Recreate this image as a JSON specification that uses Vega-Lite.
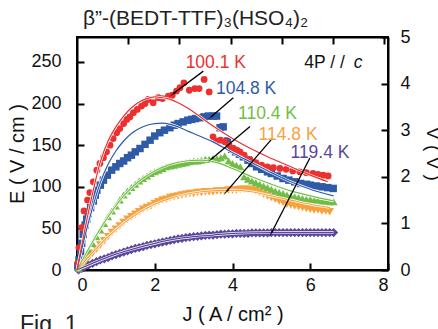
{
  "$schema": "https://vega.github.io/schema/vega-lite/v6.json",
  "width": 311,
  "height": 233,
  "autosize": {"type": "none"},
  "padding": {"left": 77, "top": 37, "right": 50, "bottom": 59},
  "background": "white",
  "title": {"text": "β”-(BEDT-TTF)₃(HSO₄)₂", "anchor": "start", "frame": "group", "dx": 6, "offset": -18, "baseline": "alphabetic", "fontSize": 21, "font": "Liberation Sans", "fontWeight": "normal", "color": "#222"},
  "datasets": {
    "pts": [
      {"s":"e","J":0.04,"E":0},{"s":"e","J":0.12,"E":2},{"s":"e","J":0.2,"E":4},{"s":"e","J":0.3,"E":6},{"s":"e","J":0.4,"E":8},{"s":"e","J":0.5,"E":10},{"s":"e","J":0.6,"E":12},{"s":"e","J":0.7,"E":13.5},{"s":"e","J":0.8,"E":15},{"s":"e","J":0.9,"E":17},{"s":"e","J":1.0,"E":18.5},{"s":"e","J":1.1,"E":20},{"s":"e","J":1.2,"E":21.5},{"s":"e","J":1.3,"E":23},{"s":"e","J":1.4,"E":24.5},{"s":"e","J":1.5,"E":26},{"s":"e","J":1.6,"E":27},{"s":"e","J":1.7,"E":28},{"s":"e","J":1.8,"E":29.5},{"s":"e","J":1.9,"E":30.5},{"s":"e","J":2.0,"E":31.5},{"s":"e","J":2.1,"E":32.5},{"s":"e","J":2.2,"E":33.5},{"s":"e","J":2.3,"E":34.5},{"s":"e","J":2.4,"E":35.5},{"s":"e","J":2.5,"E":36.5},{"s":"e","J":2.6,"E":37.5},{"s":"e","J":2.7,"E":38},{"s":"e","J":2.8,"E":39},{"s":"e","J":2.9,"E":39.5},{"s":"e","J":3.0,"E":40},{"s":"e","J":3.1,"E":40.5},{"s":"e","J":3.2,"E":41},{"s":"e","J":3.3,"E":41.5},{"s":"e","J":3.4,"E":42},{"s":"e","J":3.5,"E":42},{"s":"e","J":3.6,"E":42.5},{"s":"e","J":3.7,"E":43},{"s":"e","J":3.8,"E":43},{"s":"e","J":3.9,"E":43.5},{"s":"e","J":4.0,"E":43.5},{"s":"e","J":4.1,"E":44},{"s":"e","J":4.2,"E":44},{"s":"e","J":4.3,"E":44},{"s":"e","J":4.4,"E":44},{"s":"e","J":4.5,"E":44.5},{"s":"e","J":4.6,"E":44.5},{"s":"e","J":4.7,"E":44.5},{"s":"e","J":4.8,"E":44.5},{"s":"e","J":4.9,"E":44.5},{"s":"e","J":5.0,"E":45},{"s":"e","J":5.1,"E":45},{"s":"e","J":5.2,"E":45},{"s":"e","J":5.3,"E":45},{"s":"e","J":5.4,"E":45},{"s":"e","J":5.5,"E":45},{"s":"e","J":5.6,"E":45},{"s":"e","J":5.7,"E":45},{"s":"e","J":5.8,"E":45},{"s":"e","J":5.9,"E":45},{"s":"e","J":6.0,"E":45},{"s":"e","J":6.1,"E":45},{"s":"e","J":6.2,"E":45},{"s":"e","J":6.3,"E":45},{"s":"e","J":6.4,"E":45},{"s":"e","J":6.5,"E":45},{"s":"e","J":6.6,"E":45},
      {"s":"d","J":0.04,"E":1},{"s":"d","J":0.12,"E":5},{"s":"d","J":0.2,"E":9},{"s":"d","J":0.3,"E":15},{"s":"d","J":0.4,"E":20},{"s":"d","J":0.5,"E":25},{"s":"d","J":0.6,"E":30},{"s":"d","J":0.7,"E":35},{"s":"d","J":0.8,"E":40},{"s":"d","J":0.9,"E":45},{"s":"d","J":1.0,"E":49},{"s":"d","J":1.1,"E":53},{"s":"d","J":1.2,"E":57},{"s":"d","J":1.3,"E":61},{"s":"d","J":1.4,"E":64},{"s":"d","J":1.5,"E":67},{"s":"d","J":1.6,"E":70},{"s":"d","J":1.7,"E":73},{"s":"d","J":1.8,"E":75},{"s":"d","J":1.9,"E":77},{"s":"d","J":2.0,"E":80},{"s":"d","J":2.1,"E":82},{"s":"d","J":2.2,"E":84},{"s":"d","J":2.3,"E":85},{"s":"d","J":2.4,"E":87},{"s":"d","J":2.5,"E":88},{"s":"d","J":2.6,"E":89},{"s":"d","J":2.7,"E":90},{"s":"d","J":2.8,"E":91},{"s":"d","J":2.9,"E":92},{"s":"d","J":3.0,"E":92},{"s":"d","J":3.1,"E":93},{"s":"d","J":3.2,"E":93},{"s":"d","J":3.3,"E":94},{"s":"d","J":3.4,"E":94},{"s":"d","J":3.5,"E":94},{"s":"d","J":3.6,"E":95},{"s":"d","J":3.7,"E":95},{"s":"d","J":3.8,"E":95},{"s":"d","J":3.9,"E":96},{"s":"d","J":4.0,"E":96},{"s":"d","J":4.1,"E":96},{"s":"d","J":4.2,"E":97},{"s":"d","J":4.3,"E":97},{"s":"d","J":4.4,"E":97},{"s":"d","J":4.5,"E":96},{"s":"d","J":4.6,"E":95},{"s":"d","J":4.7,"E":93},{"s":"d","J":4.8,"E":91},{"s":"d","J":4.9,"E":89},{"s":"d","J":5.0,"E":87},{"s":"d","J":5.1,"E":85},{"s":"d","J":5.2,"E":83},{"s":"d","J":5.3,"E":81},{"s":"d","J":5.4,"E":79},{"s":"d","J":5.5,"E":78},{"s":"d","J":5.6,"E":77},{"s":"d","J":5.7,"E":76},{"s":"d","J":5.8,"E":75},{"s":"d","J":5.9,"E":74},{"s":"d","J":6.0,"E":73},{"s":"d","J":6.1,"E":72},{"s":"d","J":6.2,"E":72},{"s":"d","J":6.3,"E":71},{"s":"d","J":6.4,"E":71},{"s":"d","J":6.5,"E":70},
      {"s":"c","J":0.04,"E":2},{"s":"c","J":0.12,"E":6},{"s":"c","J":0.2,"E":14},{"s":"c","J":0.3,"E":23},{"s":"c","J":0.4,"E":32},{"s":"c","J":0.5,"E":40},{"s":"c","J":0.6,"E":48},{"s":"c","J":0.7,"E":56},{"s":"c","J":0.8,"E":64},{"s":"c","J":0.9,"E":71},{"s":"c","J":1.0,"E":77},{"s":"c","J":1.1,"E":84},{"s":"c","J":1.2,"E":90},{"s":"c","J":1.3,"E":95},{"s":"c","J":1.4,"E":99},{"s":"c","J":1.5,"E":103},{"s":"c","J":1.6,"E":107},{"s":"c","J":1.7,"E":110},{"s":"c","J":1.8,"E":113},{"s":"c","J":1.9,"E":116},{"s":"c","J":2.0,"E":118},{"s":"c","J":2.1,"E":120},{"s":"c","J":2.2,"E":122},{"s":"c","J":2.3,"E":124},{"s":"c","J":2.4,"E":125},{"s":"c","J":2.5,"E":126},{"s":"c","J":2.6,"E":127},{"s":"c","J":2.7,"E":128},{"s":"c","J":2.8,"E":129},{"s":"c","J":2.9,"E":130},{"s":"c","J":3.0,"E":131},{"s":"c","J":3.1,"E":131},{"s":"c","J":3.2,"E":132},{"s":"c","J":3.3,"E":133},{"s":"c","J":3.4,"E":133},{"s":"c","J":3.5,"E":134},{"s":"c","J":3.6,"E":134},{"s":"c","J":3.7,"E":135},{"s":"c","J":3.8,"E":137},{"s":"c","J":3.9,"E":131},{"s":"c","J":4.0,"E":128},{"s":"c","J":4.1,"E":126},{"s":"c","J":4.2,"E":124},{"s":"c","J":4.3,"E":112},{"s":"c","J":4.4,"E":109},{"s":"c","J":4.5,"E":107},{"s":"c","J":4.6,"E":105},{"s":"c","J":4.7,"E":103},{"s":"c","J":4.8,"E":101},{"s":"c","J":4.9,"E":99},{"s":"c","J":5.0,"E":97},{"s":"c","J":5.1,"E":95},{"s":"c","J":5.2,"E":93},{"s":"c","J":5.3,"E":92},{"s":"c","J":5.4,"E":90},{"s":"c","J":5.5,"E":89},{"s":"c","J":5.6,"E":88},{"s":"c","J":5.7,"E":87},{"s":"c","J":5.8,"E":86},{"s":"c","J":5.9,"E":85},{"s":"c","J":6.0,"E":85},{"s":"c","J":6.1,"E":84},{"s":"c","J":6.2,"E":84},{"s":"c","J":6.3,"E":83},{"s":"c","J":6.4,"E":83},{"s":"c","J":6.5,"E":82},{"s":"c","J":6.6,"E":82},
      {"s":"b","J":0.02,"E":5},{"s":"b","J":0.05,"E":12},{"s":"b","J":0.09,"E":22},{"s":"b","J":0.12,"E":32},{"s":"b","J":0.16,"E":43},{"s":"b","J":0.21,"E":54},{"s":"b","J":0.25,"E":61},{"s":"b","J":0.29,"E":68},{"s":"b","J":0.35,"E":75},{"s":"b","J":0.42,"E":83},{"s":"b","J":0.47,"E":90},{"s":"b","J":0.51,"E":96},{"s":"b","J":0.6,"E":102},{"s":"b","J":0.68,"E":108},{"s":"b","J":0.78,"E":114},{"s":"b","J":0.89,"E":120},{"s":"b","J":1.0,"E":124},{"s":"b","J":1.1,"E":128},{"s":"b","J":1.2,"E":131},{"s":"b","J":1.3,"E":135},{"s":"b","J":1.4,"E":138},{"s":"b","J":1.5,"E":142},{"s":"b","J":1.62,"E":146},{"s":"b","J":1.75,"E":151},{"s":"b","J":1.88,"E":156},{"s":"b","J":2.0,"E":161},{"s":"b","J":2.13,"E":165},{"s":"b","J":2.25,"E":168},{"s":"b","J":2.39,"E":171},{"s":"b","J":2.5,"E":174},{"s":"b","J":2.6,"E":176},{"s":"b","J":2.73,"E":178},{"s":"b","J":2.85,"E":180},{"s":"b","J":2.95,"E":181},{"s":"b","J":3.05,"E":182},{"s":"b","J":3.16,"E":183},{"s":"b","J":3.27,"E":184},{"s":"b","J":3.38,"E":185},{"s":"b","J":3.5,"E":185},{"s":"b","J":3.59,"E":185},{"s":"b","J":3.68,"E":171},{"s":"b","J":3.76,"E":172},{"s":"b","J":3.87,"E":155},{"s":"b","J":3.98,"E":145},{"s":"b","J":4.08,"E":142},{"s":"b","J":4.18,"E":139},{"s":"b","J":4.28,"E":136},{"s":"b","J":4.4,"E":132},{"s":"b","J":4.5,"E":128},{"s":"b","J":4.62,"E":124},{"s":"b","J":4.75,"E":121},{"s":"b","J":4.9,"E":118},{"s":"b","J":5.0,"E":116},{"s":"b","J":5.15,"E":113},{"s":"b","J":5.3,"E":110},{"s":"b","J":5.45,"E":108},{"s":"b","J":5.6,"E":106},{"s":"b","J":5.75,"E":104},{"s":"b","J":5.9,"E":103},{"s":"b","J":6.0,"E":102},{"s":"b","J":6.15,"E":101},{"s":"b","J":6.3,"E":100},{"s":"b","J":6.45,"E":99},{"s":"b","J":6.59,"E":98},
      {"s":"a","J":0.02,"E":8},{"s":"a","J":0.05,"E":27},{"s":"a","J":0.12,"E":51},{"s":"a","J":0.18,"E":71},{"s":"a","J":0.27,"E":84},{"s":"a","J":0.33,"E":93},{"s":"a","J":0.42,"E":106},{"s":"a","J":0.51,"E":120},{"s":"a","J":0.59,"E":128},{"s":"a","J":0.68,"E":135},{"s":"a","J":0.76,"E":142},{"s":"a","J":0.85,"E":150},{"s":"a","J":0.93,"E":158},{"s":"a","J":1.02,"E":165},{"s":"a","J":1.1,"E":170},{"s":"a","J":1.2,"E":176},{"s":"a","J":1.28,"E":181},{"s":"a","J":1.36,"E":184},{"s":"a","J":1.45,"E":189},{"s":"a","J":1.55,"E":193},{"s":"a","J":1.66,"E":197},{"s":"a","J":1.75,"E":200},{"s":"a","J":1.83,"E":205},{"s":"a","J":1.96,"E":201},{"s":"a","J":2.09,"E":207},{"s":"a","J":2.2,"E":206},{"s":"a","J":2.35,"E":209},{"s":"a","J":2.45,"E":210},{"s":"a","J":2.56,"E":215},{"s":"a","J":2.65,"E":219},{"s":"a","J":2.75,"E":225},{"s":"a","J":2.89,"E":216},{"s":"a","J":3.03,"E":218},{"s":"a","J":3.14,"E":218},{"s":"a","J":3.27,"E":229},{"s":"a","J":3.4,"E":214},{"s":"a","J":3.5,"E":160},{"s":"a","J":3.59,"E":155},{"s":"a","J":3.69,"E":156},{"s":"a","J":3.8,"E":154},{"s":"a","J":3.91,"E":150},{"s":"a","J":4.02,"E":146},{"s":"a","J":4.11,"E":144},{"s":"a","J":4.19,"E":142},{"s":"a","J":4.3,"E":138},{"s":"a","J":4.45,"E":133},{"s":"a","J":4.6,"E":129},{"s":"a","J":4.75,"E":126},{"s":"a","J":4.9,"E":124},{"s":"a","J":5.05,"E":123},{"s":"a","J":5.22,"E":122},{"s":"a","J":5.38,"E":121},{"s":"a","J":5.55,"E":119},{"s":"a","J":5.73,"E":118},{"s":"a","J":5.9,"E":117},{"s":"a","J":6.07,"E":116},{"s":"a","J":6.2,"E":115},{"s":"a","J":6.33,"E":114},{"s":"a","J":6.46,"E":113}
    ],
    "fits": [
      {"s":"e","J":0,"E":0},{"s":"e","J":0.5,"E":10},{"s":"e","J":1.0,"E":19},{"s":"e","J":1.5,"E":26},{"s":"e","J":2.0,"E":32},{"s":"e","J":2.5,"E":37},{"s":"e","J":3.0,"E":40},{"s":"e","J":3.5,"E":42},{"s":"e","J":4.0,"E":44},{"s":"e","J":5.0,"E":45},{"s":"e","J":6.6,"E":45},
      {"s":"d","J":0,"E":0},{"s":"d","J":0.4,"E":21},{"s":"d","J":0.8,"E":40},{"s":"d","J":1.2,"E":56},{"s":"d","J":1.6,"E":69},{"s":"d","J":2.0,"E":79},{"s":"d","J":2.4,"E":86},{"s":"d","J":2.8,"E":91},{"s":"d","J":3.2,"E":94},{"s":"d","J":3.6,"E":95.5},{"s":"d","J":4.0,"E":96},{"s":"d","J":4.5,"E":94},{"s":"d","J":5.0,"E":89},{"s":"d","J":5.5,"E":84},{"s":"d","J":6.0,"E":79},{"s":"d","J":6.5,"E":75},
      {"s":"c","J":0,"E":0},{"s":"c","J":0.4,"E":34},{"s":"c","J":0.8,"E":64},{"s":"c","J":1.2,"E":89},{"s":"c","J":1.6,"E":107},{"s":"c","J":2.0,"E":119},{"s":"c","J":2.4,"E":127},{"s":"c","J":2.8,"E":131},{"s":"c","J":3.2,"E":132},{"s":"c","J":3.6,"E":129},{"s":"c","J":4.0,"E":122},{"s":"c","J":4.5,"E":112},{"s":"c","J":5.0,"E":103},{"s":"c","J":5.5,"E":95},{"s":"c","J":6.0,"E":89},{"s":"c","J":6.6,"E":83},
      {"s":"b","J":0,"E":0},{"s":"b","J":0.2,"E":40},{"s":"b","J":0.4,"E":75},{"s":"b","J":0.6,"E":105},{"s":"b","J":0.8,"E":127},{"s":"b","J":1.0,"E":143},{"s":"b","J":1.2,"E":155},{"s":"b","J":1.4,"E":164},{"s":"b","J":1.6,"E":170},{"s":"b","J":1.8,"E":174},{"s":"b","J":2.0,"E":176},{"s":"b","J":2.2,"E":176.5},{"s":"b","J":2.4,"E":175},{"s":"b","J":2.6,"E":172},{"s":"b","J":2.8,"E":168},{"s":"b","J":3.0,"E":164},{"s":"b","J":3.5,"E":154},{"s":"b","J":4.0,"E":141},{"s":"b","J":4.5,"E":129},{"s":"b","J":5.0,"E":117},{"s":"b","J":5.5,"E":106},{"s":"b","J":6.0,"E":97},{"s":"b","J":6.6,"E":89},
      {"s":"a","J":0,"E":0},{"s":"a","J":0.2,"E":48},{"s":"a","J":0.4,"E":92},{"s":"a","J":0.6,"E":130},{"s":"a","J":0.8,"E":155},{"s":"a","J":1.0,"E":172},{"s":"a","J":1.2,"E":185},{"s":"a","J":1.4,"E":195},{"s":"a","J":1.6,"E":202},{"s":"a","J":1.8,"E":206},{"s":"a","J":2.0,"E":208},{"s":"a","J":2.2,"E":207},{"s":"a","J":2.4,"E":205},{"s":"a","J":2.6,"E":201},{"s":"a","J":2.8,"E":196},{"s":"a","J":3.0,"E":190},{"s":"a","J":3.2,"E":183},{"s":"a","J":3.5,"E":173},{"s":"a","J":4.0,"E":158},{"s":"a","J":4.5,"E":145},{"s":"a","J":5.0,"E":134},{"s":"a","J":5.5,"E":124},{"s":"a","J":6.0,"E":114},{"s":"a","J":6.45,"E":106}
    ],
    "labels": [
      {"s":"a","t":"100.1 K","J":3.57,"E":249},
      {"s":"b","t":"104.8 K","J":4.35,"E":217.5},
      {"s":"c","t":"110.4 K","J":4.9,"E":188},
      {"s":"d","t":"114.8 K","J":5.43,"E":162.5},
      {"s":"e","t":"119.4 K","J":6.25,"E":140.5}
    ],
    "arrows": [
      {"J":3.25,"E":239,"J2":2.48,"E2":212},
      {"J":4.02,"E":207,"J2":3.46,"E2":184.5},
      {"J":4.45,"E":172.5,"J2":3.46,"E2":133.5},
      {"J":5.03,"E":158.5,"J2":3.85,"E2":94.5},
      {"J":5.99,"E":134.5,"J2":5.0,"E2":44.5}
    ]
  },
  "layer": [
    {
      "layer": [
        {
          "data": {"name": "pts"},
          "mark": {"type": "point", "filled": true, "opacity": 1, "strokeWidth": 0},
          "encoding": {
            "x": {"field": "J", "type": "quantitative", "scale": {"domain": [0, 8], "nice": false, "zero": false}, "axis": {"orient": "bottom", "values": [0, 2, 4, 6, 8], "title": "J ( A / cm² )", "labelPadding": 13, "titlePadding": 10, "titleFontSize": 20}},
            "y": {"field": "E", "type": "quantitative", "scale": {"domain": [0, 280], "nice": false, "zero": false}, "axis": {"orient": "left", "values": [0, 50, 100, 150, 200, 250], "title": "E ( V / cm )", "labelPadding": 23, "titlePadding": 3, "titleFontSize": 20}},
            "color": {"field": "s", "type": "nominal", "scale": {"domain": ["a", "b", "c", "d", "e"], "range": ["#ee2f2f", "#2f5aa8", "#72bd45", "#f8a23f", "#5a479b"]}, "legend": null},
            "shape": {"field": "s", "type": "nominal", "scale": {"domain": ["a", "b", "c", "d", "e"], "range": ["circle", "square", "triangle-up", "triangle-down", "diamond"]}, "legend": null},
            "size": {"field": "s", "type": "nominal", "scale": {"domain": ["a", "b", "c", "d", "e"], "range": [46, 85, 75, 75, 50]}, "legend": null}
          }
        },
        {
          "data": {"name": "fits"},
          "mark": {"type": "line", "color": "white", "strokeWidth": 2.6, "interpolate": "monotone"},
          "encoding": {
            "x": {"field": "J", "type": "quantitative"},
            "y": {"field": "E", "type": "quantitative"},
            "detail": {"field": "s", "type": "nominal"}
          }
        },
        {
          "data": {"name": "fits"},
          "mark": {"type": "line", "strokeWidth": 1.2, "interpolate": "monotone"},
          "encoding": {
            "x": {"field": "J", "type": "quantitative"},
            "y": {"field": "E", "type": "quantitative"},
            "color": {"field": "s", "type": "nominal", "legend": null}
          }
        },
        {
          "data": {"name": "arrows"},
          "mark": {"type": "rule", "color": "black", "strokeWidth": 1.3},
          "encoding": {
            "x": {"field": "J", "type": "quantitative"},
            "y": {"field": "E", "type": "quantitative"},
            "x2": {"field": "J2"},
            "y2": {"field": "E2"}
          }
        },
        {
          "data": {"name": "arrows"},
          "transform": [{"calculate": "atan2((datum.J2 - datum.J) * 38.875, (datum.E2 - datum.E) * 0.8304) * 180 / PI", "as": "ang"}],
          "mark": {"type": "point", "shape": "wedge", "filled": true, "color": "black", "size": 80, "strokeWidth": 0},
          "encoding": {
            "x": {"field": "J2", "type": "quantitative"},
            "y": {"field": "E2", "type": "quantitative"},
            "angle": {"field": "ang", "type": "quantitative", "scale": null}
          }
        },
        {
          "data": {"name": "labels"},
          "mark": {"type": "text", "fontSize": 17.5, "font": "Liberation Sans", "align": "center", "baseline": "middle"},
          "encoding": {
            "x": {"field": "J", "type": "quantitative"},
            "y": {"field": "E", "type": "quantitative"},
            "text": {"field": "t"},
            "color": {"field": "s", "type": "nominal", "legend": null}
          }
        },
        {
          "data": {"values": [{"t": "4P / /", "J": 6.89, "E": 249}]},
          "mark": {"type": "text", "fontSize": 17.5, "font": "Liberation Sans", "align": "right", "baseline": "middle", "color": "#111"},
          "encoding": {
            "x": {"field": "J", "type": "quantitative"},
            "y": {"field": "E", "type": "quantitative"},
            "text": {"field": "t"}
          }
        },
        {
          "data": {"values": [{"t": "c", "J": 7.12, "E": 249}]},
          "mark": {"type": "text", "fontSize": 17.5, "font": "Liberation Sans", "fontStyle": "italic", "align": "left", "baseline": "middle", "color": "#111"},
          "encoding": {
            "x": {"field": "J", "type": "quantitative"},
            "y": {"field": "E", "type": "quantitative"},
            "text": {"field": "t"}
          }
        },
        {
          "data": {"values": [{"t": "Fig. 1", "J": -1.466, "E": -74}]},
          "mark": {"type": "text", "fontSize": 23, "font": "Liberation Sans", "align": "left", "baseline": "alphabetic", "color": "#222"},
          "encoding": {
            "x": {"field": "J", "type": "quantitative"},
            "y": {"field": "E", "type": "quantitative"},
            "text": {"field": "t"}
          }
        }
      ]
    },
    {
      "data": {"values": [{"J": 0, "V": 0}, {"J": 8, "V": 5}]},
      "mark": {"type": "point", "opacity": 0},
      "encoding": {
        "x": {"field": "J", "type": "quantitative", "axis": {"orient": "top", "values": [1.3167, 2.6333, 3.95, 5.2667, 6.5833, 7.9], "labels": false, "title": null}},
        "y": {"field": "V", "type": "quantitative", "scale": {"domain": [0, 5], "nice": false, "zero": false}, "axis": {"orient": "right", "values": [0, 1, 2, 3, 4, 5], "title": "V ( V )", "titleAngle": 90, "labelPadding": 19, "titlePadding": 12, "titleFontSize": 19}}
      }
    }
  ],
  "resolve": {"scale": {"y": "independent"}, "axis": {"x": "independent"}},
  "config": {
    "font": "Liberation Sans",
    "view": {"stroke": "black", "strokeWidth": 2},
    "axis": {"domainColor": "black", "domainWidth": 2, "tickColor": "black", "tickWidth": 2, "tickSize": -7, "labelFontSize": 18, "labelColor": "#111", "titleFontSize": 17.5, "titleFontWeight": "normal", "titleColor": "#111", "grid": false, "labelFont": "Liberation Sans", "titleFont": "Liberation Sans"}
  }
}
